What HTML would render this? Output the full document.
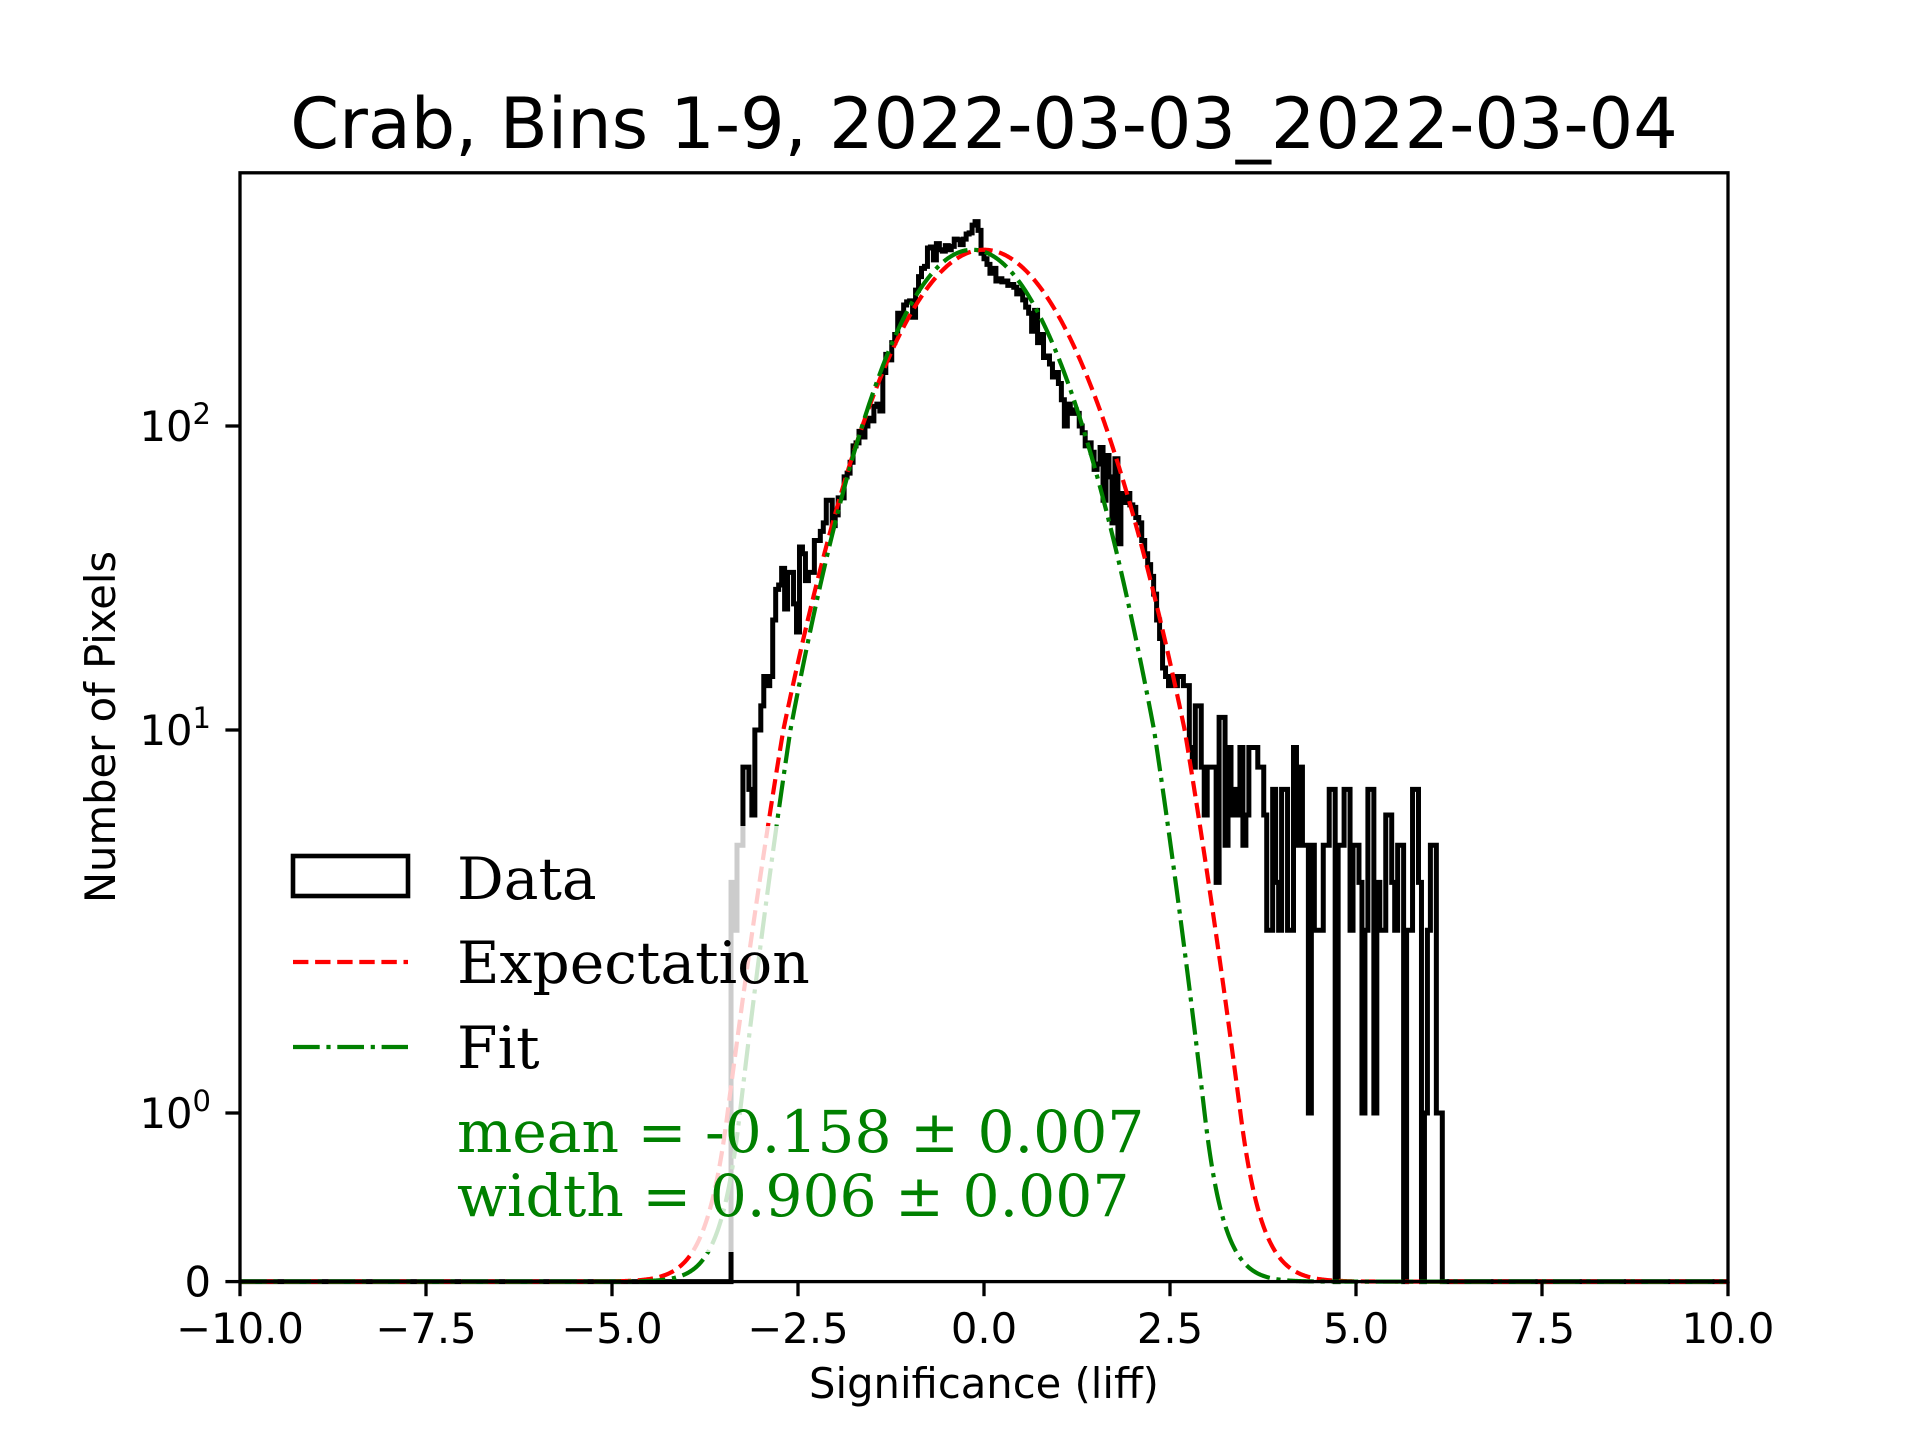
<!DOCTYPE html>
<html><head><meta charset="utf-8"><style>
html,body{margin:0;padding:0;background:#fff;}
svg{display:block;}
text{font-family:"DejaVu Sans","Liberation Sans",sans-serif;}
.serif{font-family:"DejaVu Serif","Liberation Serif",serif;}
</style></head><body>
<svg id="chart" width="1920" height="1440" viewBox="0 0 1920 1440" xmlns="http://www.w3.org/2000/svg">
<rect width="1920" height="1440" fill="#fff"/>
<text x="984" y="148" font-size="70" text-anchor="middle">Crab, Bins 1-9, 2022-03-03_2022-03-04</text>
<g id="plot"></g>
<g id="legend">
<rect x="270" y="826" width="895" height="426" fill="#fff" fill-opacity="0.8"/>
<rect x="293" y="856" width="115" height="40" fill="none" stroke="#000" stroke-width="4.6"/>
<text class="serif" x="457" y="899" font-size="58.3">Data</text>
<line x1="293" y1="962" x2="408" y2="962" stroke="#ff0000" stroke-width="4.2" stroke-dasharray="15.4 6.7"/>
<text class="serif" x="457" y="983" font-size="58.3">Expectation</text>
<line x1="293" y1="1047" x2="408" y2="1047" stroke="#008000" stroke-width="4.2" stroke-dasharray="26.7 6.7 4.2 6.7"/>
<text class="serif" x="457" y="1068" font-size="58.3">Fit</text>
<text class="serif" x="457" y="1152" font-size="58.3" fill="#008000">mean = -0.158 ± 0.007</text>
<text class="serif" x="457" y="1216" font-size="58.3" fill="#008000">width = 0.906 ± 0.007</text>
</g>
<g id="axes"></g>
</svg>
<script>
const binStart = -3.40;
const binWidth = 0.04;
const counts = [
4,3,5,5,
8,8,7,6,10,10,12,15,14,15,
23,29,30,34,25,33,33,26,21,40,
38,31,33,33,42,42,45,48,57,57,
47,51,58,58,68,70,76,86,88,96,
92,100,106,104,116,118,112,
150,172,165,188,200,235,225,250,256,258,
228,280,310,330,335,385,388,352,398,380,
376,392,380,390,412,410,395,412,428,432,
458,470,440,370,355,340,318,330,300,305,
298,300,290,292,286,272,280,260,246,235,
205,240,188,200,168,170,160,145,150,138,
122,100,118,110,113,110,100,95,86,88,
82,72,75,85,57,80,68,48,78,41,
60,56,60,55,54,50,48,42,38,35,
32,28,23,20,
16,15,14,15,14,15,15,14,
14,9,8,12,12,8,6,8,8,8,
4,11,11,5,9,6,7,6,9,5,
6,9,9,9,8,8,6,3,3,7,
4,3,7,7,3,3,9,5,8,5,
5,1,5,3,3,3,5,5,7,7,
0,5,5,7,7,3,5,5,4,1,
3,7,7,1,4,3,3,6,6,4,
3,5,5,0,3,3,7,7,4,0,
1,3,5,5,1,1
];
const xTicks = [-10,-7.5,-5,-2.5,0,2.5,5,7.5,10];
const xTickLabels = ["\u221210.0","\u22127.5","\u22125.0","\u22122.5","0.0","2.5","5.0","7.5","10.0"];
const yTicks = [0,1,10,100];
const yTickExp = ["", "0", "1", "2"];
const expectationParams = [0.0, 1.0, 380];
const fitParams = [-0.158, 0.906, 380];

const L=240,R=1728,T=172.8,B=1281.6;
const X0=-10,X1=10;
function xs(x){return L+(x-X0)/(X1-X0)*(R-L);}
function ys(v){
  if(v<=1) return B - v*(B-1113);
  if(v<=10) return 1113 - 383*Math.log10(v);
  return 730 - 304*Math.log10(v/10);
}
const NS="http://www.w3.org/2000/svg";
function mk(tag,attrs,parent){const e=document.createElementNS(NS,tag);for(const k in attrs)e.setAttribute(k,attrs[k]);parent.appendChild(e);return e;}
const plot=document.getElementById('plot');
const axes=document.getElementById('axes');

let d="M"+xs(X0)+","+ys(0)+" L"+xs(binStart)+","+ys(0);
for(let i=0;i<counts.length;i++){
  const a=binStart+i*binWidth, b=a+binWidth;
  d+=" L"+xs(a)+","+ys(counts[i])+" L"+xs(b)+","+ys(counts[i]);
}
d+=" L"+xs(binStart+counts.length*binWidth)+","+ys(0)+" L"+xs(X1)+","+ys(0);
const hist=mk('path',{d:d,fill:'none',stroke:'#000','stroke-width':5,'stroke-linejoin':'miter'},plot);



function gaussPath(p){
  let s="";
  for(let k=0;k<=2000;k++){
    const x=X0+(X1-X0)*k/2000;
    const v=p[2]*Math.exp(-0.5*Math.pow((x-p[0])/p[1],2));
    s+=(k?" L":"M")+xs(x).toFixed(2)+","+ys(v).toFixed(2);
  }
  return s;
}
const ex=mk('path',{d:gaussPath(expectationParams),fill:'none',stroke:'#ff0000','stroke-width':4.2,'stroke-dasharray':'15.4 6.7'},plot);


const ft=mk('path',{d:gaussPath(fitParams),fill:'none',stroke:'#008000','stroke-width':4.2,'stroke-dasharray':'26.7 6.7 4.2 6.7'},plot);



const fr=mk('rect',{x:L,y:T,width:R-L,height:B-T,fill:'none',stroke:'#000','stroke-width':3.3},axes);



xTicks.forEach((t,i)=>{
  const x=xs(t);
  const tk=mk('line',{x1:x,y1:B,x2:x,y2:B+14.6,stroke:'#000','stroke-width':3.3},axes);
  
  
  const tl=mk('text',{x:x,y:1343,'font-size':41.7,'text-anchor':'middle'},axes);
  tl.textContent=xTickLabels[i];
  
  
});
yTicks.forEach((t,i)=>{
  const y=ys(t);
  const tk=mk('line',{x1:L-14.6,y1:y,x2:L,y2:y,stroke:'#000','stroke-width':3.3},axes);
  
  
  const tl=mk('text',{x:211,y:y+15,'font-size':41.7,'text-anchor':'end'},axes);
  
  
  if(yTickExp[i]===""){tl.textContent="0";}
  else{
    const b=mk('tspan',{},tl);b.textContent="10";
    const s=mk('tspan',{dy:-17,'font-size':29},tl);s.textContent=yTickExp[i];
  }
});
const xl=mk('text',{x:984,y:1398,'font-size':41.7,'text-anchor':'middle'},axes);
xl.textContent="Significance (liff)";


const yl=mk('text',{x:0,y:0,'font-size':41.7,'text-anchor':'middle',transform:'translate(115,727) rotate(-90)'},axes);
yl.textContent="Number of Pixels";



const svg=document.getElementById('chart');
svg.insertBefore(document.getElementById('legend'), axes);
</script>
</body></html>
